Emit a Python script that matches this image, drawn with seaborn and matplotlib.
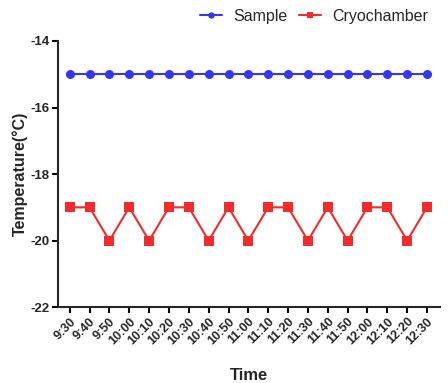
#!/usr/bin/env python3
'''
Sample vs cryochamber temperature over time, line+marker plot.
'''
import seaborn as sns
import matplotlib.pyplot as plt
import pandas as pd

times = ['9:30', '9:40', '9:50', '10:00', '10:10', '10:20', '10:30',
         '10:40', '10:50', '11:00', '11:10', '11:20', '11:30', '11:40',
         '11:50', '12:00', '12:10', '12:20', '12:30']
sample = [-15] * 19
cryochamber = [-19, -19, -20, -19, -20, -19, -19, -20, -19, -20,
               -19, -19, -20, -19, -20, -19, -19, -20, -19]
y_ticks = [-14, -16, -18, -20, -22]

sns.set_style('ticks')
plt.rcParams['font.family'] = ['Liberation Sans', 'DejaVu Sans']

df = pd.DataFrame({
    'idx': list(range(len(times))) * 2,
    'temp': sample + cryochamber,
    'series': ['Sample'] * len(times) + ['Cryochamber'] * len(times),
})

fig = plt.figure(figsize=(4.48, 3.83), dpi=100)
ax = fig.add_axes([0.129, 0.198, 0.853, 0.695])
sns.lineplot(data=df, x='idx', y='temp', hue='series', style='series',
             markers=['o', 's'], dashes=False,
             palette={'Sample': '#3535f5', 'Cryochamber': '#f52a2a'},
             markersize=6.5, markeredgewidth=0, linewidth=1.5, ax=ax)

ax.set_xlim(-0.6, 18.65)
ax.set_ylim(-22, -14)
ax.set_yticks(y_ticks)
ax.set_yticklabels([str(v) for v in y_ticks], fontweight='bold', fontsize=9.5)
ax.set_xticks(range(len(times)))
ax.set_xticklabels(times, rotation=45, ha='right', rotation_mode='anchor',
                   fontweight='bold', fontsize=9)
ax.set_xlabel('Time', fontweight='bold', fontsize=12, labelpad=15)
ax.set_ylabel('Temperature(°C)', fontweight='bold', fontsize=11.5,
              labelpad=2)
sns.despine(ax=ax)
for side in ['left', 'bottom']:
    ax.spines[side].set_linewidth(1.5)
ax.tick_params(width=1.5, length=4, color='black', pad=2)

handles, labels = ax.get_legend_handles_labels()
ax.legend(handles, labels, ncol=2, frameon=False, fontsize=11.5,
          loc='center right', bbox_to_anchor=(0.988, 0.958),
          bbox_transform=fig.transFigure, handlelength=1.4,
          handletextpad=0.7, columnspacing=0.7, markerscale=0.7)

fig.savefig('out.png', dpi=100)
